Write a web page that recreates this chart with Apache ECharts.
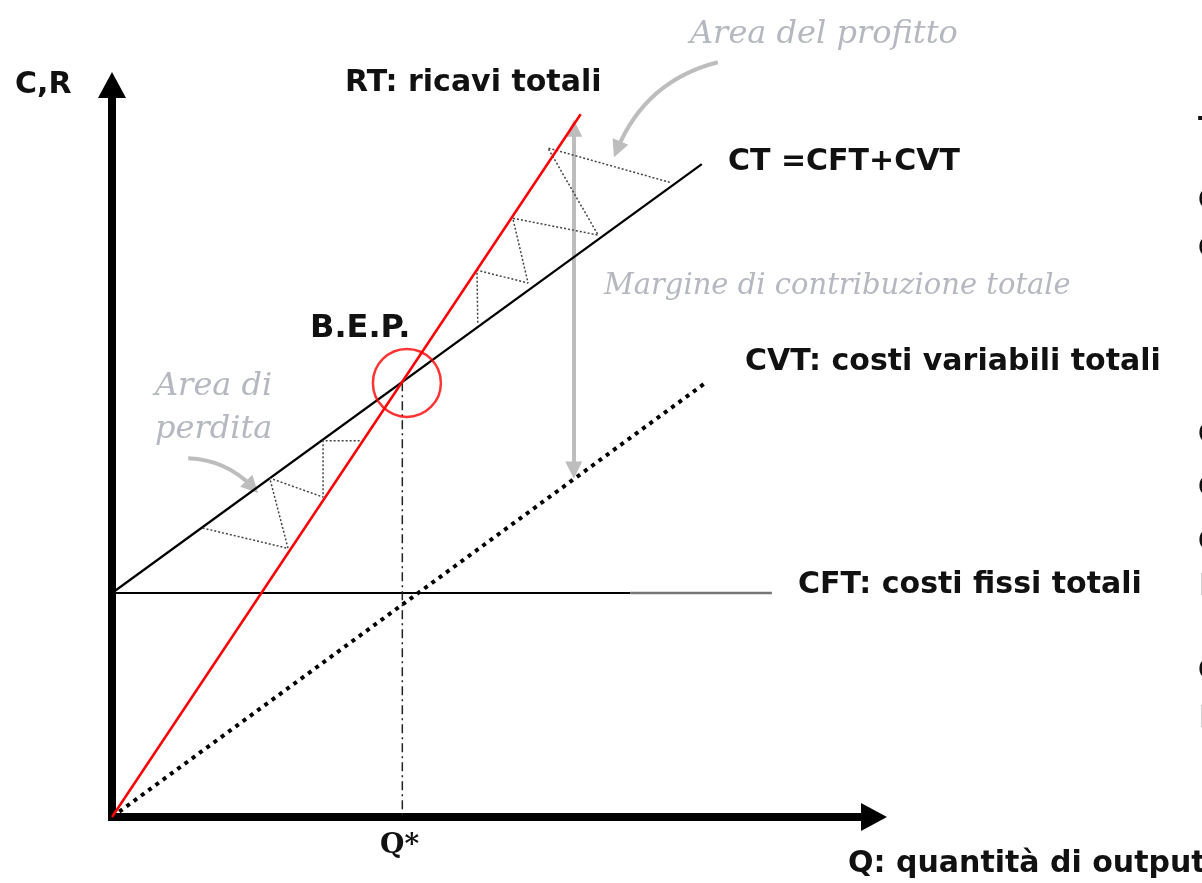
<!DOCTYPE html>
<html><head><meta charset="utf-8">
<script src="https://cdn.jsdelivr.net/npm/echarts@6/dist/echarts.min.js"></script>
<style>html,body{margin:0;padding:0;background:#fff}#c{width:1202px;height:883px}</style>
</head><body><div id="c"></div>
<script>
// ---- data (in chart units: Q on x 0..100, C,R on y 0..100) ----
const rtLine = [[0, 0], [61.5, 96]];            // RT: ricavi totali
const ctLine = [[0, 30.6], [77.4, 89.2]];       // CT = CFT + CVT
const cvtLine = [[0, 0], [78, 59.4]];           // CVT: costi variabili totali
const cftLine = [[0, 30.6], [68, 30.6]];        // CFT: costi fissi totali (dark part)
const cftLineTail = [[68, 30.6], [86.6, 30.6]]; // CFT (lighter right part)
const qStarLine = [[38.1, 59.4], [38.1, 0]];    // Q* drop line
const bepCircle = [[38.7, 59.3]];               // B.E.P. marker
const profitZigzag = [[73.2, 86.7], [57.2, 91.4], [63.8, 79.5], [52.6, 81.8], [54.6, 72.95], [47.9, 74.7], [48.0, 67.3]];
const lossZigzag = [[32.5, 51.4], [27.7, 51.4], [27.7, 43.7], [20.7, 46.3], [23.1, 36.7], [11.8, 39.5]];
const marginArrow = [[60.6, 94.1], [60.6, 47.4]];
const profitArrow = [[79.5, 103.1], [66.3, 91.2]];
const lossArrow = [[10.0, 49.0], [18.4, 45.1]];

const labelsBold = [
  {text: 'C,R', x: 15, y: 85, s: 30},
  {text: 'RT: ricavi totali', x: 345, y: 83, s: 30},
  {text: 'CT =CFT+CVT', x: 728, y: 162, s: 30},
  {text: 'B.E.P.', x: 310, y: 329, s: 32},
  {text: 'CVT: costi variabili totali', x: 745, y: 362, s: 30},
  {text: 'CFT: costi fissi totali', x: 798, y: 585, s: 30},
  {text: 'Q: quantità di output', x: 848, y: 864, s: 30}
];
const labelsItalic = [
  {text: 'Area del profitto', x: 690, y: 35, s: 32},
  {text: 'Margine di contribuzione totale', x: 604, y: 286, s: 29},
  {text: 'Area di', x: 155, y: 387, s: 32},
  {text: 'perdita', x: 155, y: 430, s: 32}
];
const edgeGlyphs = [
  {text: 'T', x: 1198, y: 130, c: '#111'},
  {text: 'C', x: 1198, y: 202, c: '#111'},
  {text: 'C', x: 1198, y: 250, c: '#111'},
  {text: 'C', x: 1198, y: 436, c: '#111'},
  {text: 'C', x: 1198, y: 489, c: '#111'},
  {text: 'C', x: 1198, y: 543, c: '#111'},
  {text: 'l', x: 1199, y: 588, c: '#bbb'},
  {text: 'C', x: 1198, y: 672, c: '#111'},
  {text: 'l', x: 1199, y: 720, c: '#bbb'}
];

const chart = echarts.init(document.getElementById('c'), null, {renderer: 'canvas'});

function seg(data, style, z) {
  return {type: 'line', data: data, symbol: 'none', showSymbol: false, silent: true,
          clip: false, lineStyle: style, z: z || 2};
}
function arrowLines(coords, symbols, curveness) {
  return {type: 'lines', coordinateSystem: 'cartesian2d', polyline: false, silent: true, clip: false,
          symbol: symbols, symbolSize: 17, z: 1,
          lineStyle: {color: '#bdbdbd', width: 4, opacity: 1, curveness: curveness},
          data: [{coords: coords}]};
}

const axisCommon = {
  type: 'value', min: 0, max: 100,
  axisLine: {show: true, onZero: false, symbol: ['none', 'triangle'], symbolSize: [28, 26],
             lineStyle: {color: '#000', width: 8, cap: 'square'}},
  axisTick: {show: false}, axisLabel: {show: false}, splitLine: {show: false}
};

const graphics = [];
labelsBold.forEach(l => graphics.push({type: 'text', x: l.x, y: l.y, silent: true,
  style: {text: l.text, fontFamily: 'DejaVu Sans', fontWeight: 'bold', fontSize: l.s,
          fill: '#111', align: 'left', verticalAlign: 'middle'}}));
graphics.push({type: 'text', x: 380, y: 846, silent: true,
  style: {text: 'Q*', fontFamily: 'DejaVu Serif', fontWeight: 'bold', fontSize: 28,
          fill: '#111', align: 'left', verticalAlign: 'middle'}});
labelsItalic.forEach(l => graphics.push({type: 'text', x: l.x, y: l.y, silent: true,
  style: {text: l.text, fontFamily: 'DejaVu Serif', fontStyle: 'italic', fontSize: l.s,
          fill: '#b5b8c0', align: 'left', verticalAlign: 'middle'}}));
edgeGlyphs.forEach(l => graphics.push({type: 'text', x: l.x, y: l.y, silent: true,
  style: {text: l.text, fontFamily: 'DejaVu Sans', fontWeight: 'bold', fontSize: 28,
          fill: l.c, align: 'left', verticalAlign: 'middle'}}));

chart.setOption({
  animation: false,
  backgroundColor: '#fff',
  grid: {left: 112, top: 85, width: 762, height: 732},
  xAxis: axisCommon,
  yAxis: axisCommon,
  graphic: graphics,
  series: [
    seg(cftLine, {color: '#000', width: 2}),
    seg(cftLineTail, {color: '#777', width: 2.5}),
    seg(ctLine, {color: '#000', width: 2.2}),
    seg(cvtLine, {color: '#000', width: 4, type: [4, 5]}),
    seg(qStarLine, {color: '#222', width: 1.5, type: [9, 4, 2, 4]}),
    seg(profitZigzag, {color: '#444', width: 1.5, type: [2, 2]}),
    seg(lossZigzag, {color: '#444', width: 1.5, type: [2, 2]}),
    seg(rtLine, {color: '#ff0000', width: 2.5}, 3),
    arrowLines(marginArrow, ['triangle', 'triangle'], 0),
    arrowLines(profitArrow, ['none', 'triangle'], -0.25),
    arrowLines(lossArrow, ['none', 'triangle'], 0.2),
    {type: 'scatter', data: bepCircle, symbol: 'circle', symbolSize: 68, silent: true, z: 4,
     itemStyle: {color: 'rgba(0,0,0,0)', borderColor: '#ff0000', borderWidth: 2.5}}
  ]
});
</script>
</body></html>
